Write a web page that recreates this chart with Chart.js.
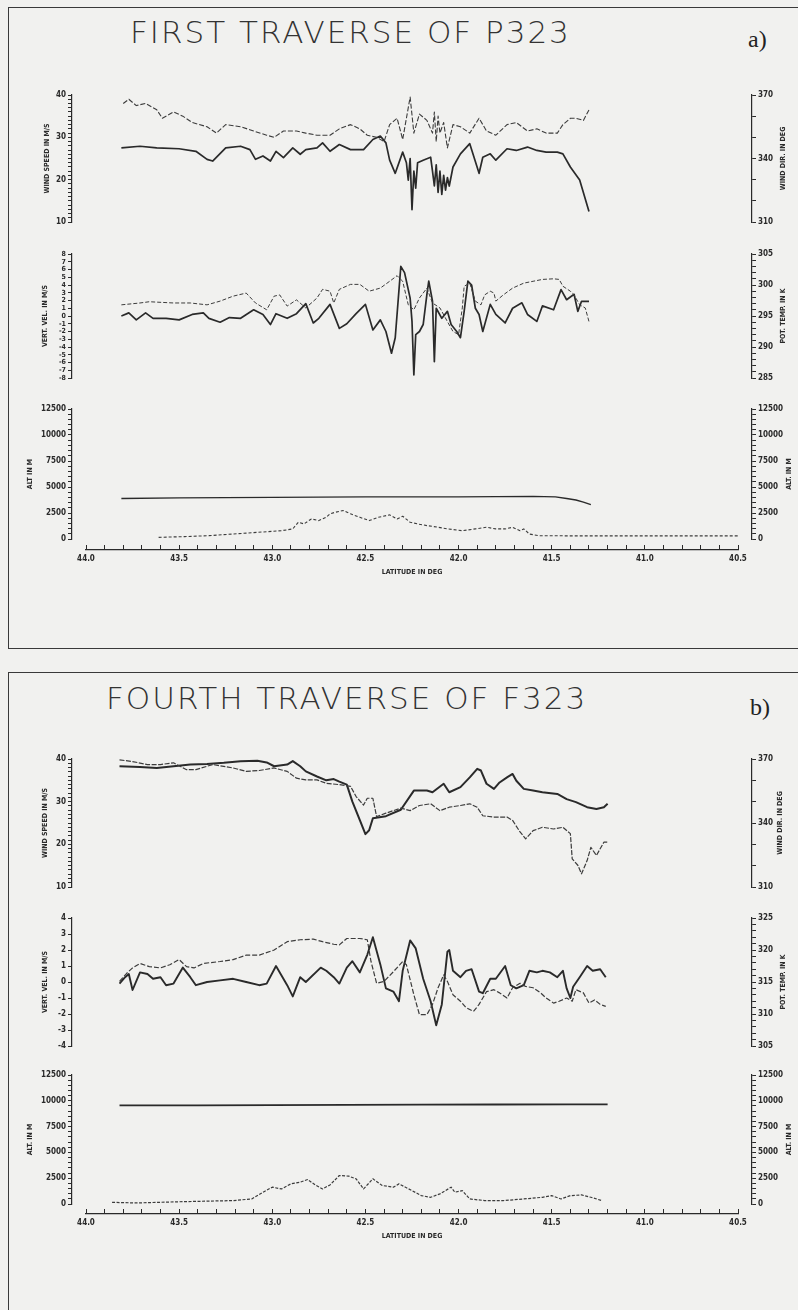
<!DOCTYPE html>
<html lang="en">
<head>
<meta charset="UTF-8" />
<title>First traverse of P323 / Fourth traverse of F323</title>
<script src="https://cdn.jsdelivr.net/npm/chart.js@4.4.0/dist/chart.umd.min.js"></script>
<style>
  body { margin: 0; background: #f1f1ef; }
  #page { position: relative; width: 798px; height: 1310px; overflow: hidden; background: #f1f1ef; }
  canvas { position: absolute; left: 20px; }
  .box { position: absolute; left: 8px; width: 820px; border: 1px solid #3a3a3a; }
  .title { position: absolute; font-family: 'DejaVu Sans', sans-serif; font-weight: 200; font-size: 31px; color: #333; letter-spacing: 2px; white-space: nowrap; }
  .tag { position: absolute; font-family: 'Liberation Serif', serif; font-size: 24px; color: #222; }
</style>
</head>
<body>
<div id="page">
  <div class="box" style="top:7px;height:640px"></div>
  <div class="box" style="top:672px;height:660px"></div>
  <div class="title" style="left:130px;top:14px">FIRST TRAVERSE OF P323</div>
  <div class="tag" style="left:748px;top:26px">a)</div>
  <div class="title" style="left:106px;top:680px">FOURTH TRAVERSE OF F323</div>
  <div class="tag" style="left:750px;top:694px">b)</div>

  <canvas id="aWind" width="776" height="147" style="top:85px"></canvas>
  <canvas id="aVert" width="776" height="144" style="top:244px"></canvas>
  <canvas id="aAlt" width="776" height="150" style="top:399px"></canvas>
  <canvas id="aLat" width="776" height="37" style="top:542px"></canvas>

  <canvas id="bWind" width="776" height="148" style="top:749px"></canvas>
  <canvas id="bVert" width="776" height="148" style="top:908px"></canvas>
  <canvas id="bAlt" width="776" height="149" style="top:1065px"></canvas>
  <canvas id="bLat" width="776" height="37" style="top:1206px"></canvas>
</div>

<script>
  // ---- panel a : first traverse of P323 ----
  const aWsLat = [43.81, 43.71, 43.62, 43.50, 43.41, 43.35, 43.32, 43.25, 43.17, 43.12,
    43.09, 43.05, 43.01, 42.98, 42.94, 42.89, 42.85, 42.82, 42.76, 42.73,
    42.69, 42.64, 42.58, 42.51, 42.46, 42.42, 42.39, 42.37, 42.34, 42.30,
    42.28, 42.27, 42.26, 42.25, 42.24, 42.23, 42.22, 42.19, 42.15, 42.14,
    42.13, 42.12, 42.11, 42.10, 42.09, 42.08, 42.07, 42.06, 42.05, 42.03,
    41.99, 41.94, 41.89, 41.87, 41.83, 41.80, 41.74, 41.69, 41.63, 41.58,
    41.53, 41.47, 41.44, 41.40, 41.35, 41.30];
  const aWs = [27.5, 27.9, 27.5, 27.3, 26.7, 24.8, 24.4, 27.5, 27.9, 27.1,
    24.8, 25.6, 24.4, 26.7, 25.2, 27.5, 26.0, 27.1, 27.5, 28.7,
    26.7, 28.3, 27.1, 27.1, 29.5, 30.3, 28.7, 24.6, 21.5, 26.5,
    24.0, 19.9, 25.0, 12.9, 22.0, 18.0, 24.0, 24.6, 25.3, 22.0,
    18.5, 23.5, 17.0, 22.0, 16.5, 21.0, 17.5, 20.5, 18.5, 23.0,
    26.1, 28.5, 21.5, 25.3, 26.1, 24.6, 27.3, 26.9, 27.7, 26.9,
    26.5, 26.5, 26.1, 23.0, 19.9, 12.5];

  const aDirLat = [43.80, 43.77, 43.73, 43.68, 43.62, 43.59, 43.53, 43.48, 43.43, 43.35,
    43.30, 43.25, 43.17, 43.10, 43.03, 42.99, 42.94, 42.87, 42.82, 42.76,
    42.69, 42.64, 42.58, 42.53, 42.49, 42.44, 42.40, 42.37, 42.33, 42.30,
    42.26, 42.24, 42.21, 42.17, 42.14, 42.13, 42.12, 42.11, 42.10, 42.08,
    42.06, 42.03, 41.99, 41.94, 41.89, 41.85, 41.80, 41.74, 41.69, 41.63,
    41.58, 41.53, 41.47, 41.44, 41.40, 41.37, 41.33, 41.30];
  const aDir = [366, 368, 365, 366, 363, 359, 362, 360, 357, 355,
    352, 356, 355, 353, 351, 350, 353, 353, 352, 351,
    351, 354, 356, 354, 351, 350, 348, 356, 359, 349,
    369, 352, 361, 358, 352, 362, 348, 360, 352, 357,
    345, 356, 355, 352, 359, 353, 351, 356, 357, 353,
    354, 352, 352, 356, 359, 359, 358, 363];

  const aVvLat = [43.81, 43.77, 43.73, 43.68, 43.64, 43.57, 43.50, 43.43, 43.37, 43.34,
    43.28, 43.23, 43.17, 43.10, 43.05, 43.01, 42.98, 42.92, 42.87, 42.82,
    42.78, 42.75, 42.69, 42.64, 42.60, 42.55, 42.50, 42.46, 42.42, 42.39,
    42.36, 42.34, 42.31, 42.29, 42.26, 42.25, 42.24, 42.23, 42.21, 42.19,
    42.17, 42.16, 42.14, 42.13, 42.12, 42.09, 42.06, 42.04, 42.01, 41.99,
    41.97, 41.95, 41.93, 41.91, 41.89, 41.87, 41.83, 41.80, 41.75, 41.71,
    41.66, 41.63, 41.58, 41.55, 41.49, 41.45, 41.42, 41.38, 41.36, 41.34,
    41.30];
  const aVv = [0.0, 0.4, -0.5, 0.4, -0.3, -0.3, -0.5, 0.2, 0.4, -0.3,
    -0.8, -0.2, -0.3, 0.8, 0.2, -1.1, 0.3, -0.3, 0.3, 1.6,
    -0.9, -0.3, 1.5, -1.6, -1.0, 0.3, 1.5, -1.8, -0.5, -2.0,
    -4.8, -2.8, 6.4, 5.6, 2.3, -0.7, -7.6, -2.4, -2.0, -1.1,
    2.8, 4.5, 1.9, -5.9, 1.0, -0.3, 0.6, -1.1, -2.0, -2.8,
    0.6, 4.5, 4.0, 1.0, 0.2, -2.0, 1.5, 0.2, -0.9, 1.0,
    1.7, 0.2, -0.7, 1.3, 0.8, 3.4, 2.1, 2.8, 0.6, 1.9,
    1.9];

  const aPtLat = [43.81, 43.71, 43.66, 43.53, 43.44, 43.35, 43.28, 43.21, 43.14, 43.09,
    43.03, 42.99, 42.96, 42.92, 42.87, 42.82, 42.76, 42.73, 42.69, 42.67,
    42.64, 42.58, 42.53, 42.48, 42.42, 42.37, 42.33, 42.30, 42.27, 42.24,
    42.21, 42.17, 42.14, 42.10, 42.06, 42.03, 42.00, 41.98, 41.97, 41.94,
    41.91, 41.88, 41.86, 41.83, 41.81, 41.80, 41.76, 41.71, 41.65, 41.60,
    41.55, 41.49, 41.46, 41.44, 41.40, 41.38, 41.35, 41.32, 41.30];
  const aPt = [296.8, 297.1, 297.3, 297.1, 297.1, 296.8, 297.4, 298.2, 298.7, 297.1,
    296.0, 298.2, 298.4, 296.6, 297.6, 296.3, 297.9, 299.3, 299.0, 297.1,
    299.3, 300.1, 300.1, 299.0, 299.5, 300.6, 301.5, 300.6, 296.8, 296.0,
    297.9, 299.5, 297.1, 296.3, 294.1, 292.5, 292.0, 296.3, 299.8, 300.3,
    297.4, 296.8, 298.4, 299.0, 298.7, 297.4, 298.4, 299.5, 300.3, 300.6,
    300.9, 301.0, 300.9, 299.8, 299.0, 298.4, 296.8, 296.3, 294.1];

  const aAltLat = [43.81, 43.50, 43.00, 42.50, 42.00, 41.60, 41.48, 41.42, 41.37, 41.33, 41.29];
  const aAlt = [3900, 3950, 4000, 4050, 4050, 4100, 4050, 3900, 3750, 3550, 3300];

  const aTerLat = [43.61, 43.47, 43.34, 43.21, 43.08, 42.95, 42.89, 42.86, 42.83, 42.79,
    42.75, 42.71, 42.69, 42.66, 42.62, 42.58, 42.53, 42.48, 42.43, 42.37,
    42.33, 42.30, 42.26, 42.22, 42.17, 42.11, 42.06, 41.98, 41.91, 41.85,
    41.80, 41.75, 41.71, 41.67, 41.65, 41.62, 41.57, 41.39, 41.12, 40.86,
    40.50];
  const aTer = [160, 230, 320, 480, 640, 800, 970, 1610, 1450, 1930,
    1770, 2090, 2420, 2580, 2740, 2420, 2090, 1770, 2090, 2320,
    1930, 2190, 1610, 1450, 1290, 1130, 970, 800, 970, 1130,
    970, 970, 1130, 800, 970, 480, 320, 300, 300, 300,
    300];

  // ---- panel b : fourth traverse of F323 ----
  const bWsLat = [43.82, 43.71, 43.62, 43.53, 43.44, 43.35, 43.26, 43.17, 43.08, 43.03,
    42.99, 42.92, 42.89, 42.85, 42.82, 42.76, 42.71, 42.67, 42.64, 42.60,
    42.57, 42.53, 42.50, 42.48, 42.46, 42.39, 42.31, 42.24, 42.17, 42.14,
    42.08, 42.05, 41.99, 41.94, 41.90, 41.88, 41.85, 41.81, 41.78, 41.74,
    41.71, 41.69, 41.65, 41.60, 41.55, 41.47, 41.42, 41.37, 41.31, 41.26,
    41.22, 41.20];
  const bWs = [38.3, 38.1, 37.9, 38.3, 38.7, 38.8, 39.1, 39.5, 39.6, 39.2,
    38.3, 38.7, 39.5, 38.3, 37.1, 35.9, 35.0, 35.3, 34.7, 34.0,
    30.0, 25.7, 22.4, 23.3, 26.1, 26.6, 28.1, 32.6, 32.6, 32.2,
    34.2, 32.2, 33.4, 35.7, 37.7, 37.3, 34.2, 33.0, 34.5, 35.7,
    36.5, 34.9, 33.0, 32.6, 32.2, 31.8, 30.6, 29.9, 28.7, 28.3,
    28.7, 29.5];

  const bDirLat = [43.82, 43.75, 43.67, 43.60, 43.53, 43.46, 43.41, 43.32, 43.21, 43.14,
    43.07, 42.99, 42.92, 42.87, 42.82, 42.76, 42.71, 42.64, 42.58, 42.55,
    42.51, 42.49, 42.46, 42.44, 42.39, 42.31, 42.26, 42.21, 42.15, 42.10,
    42.05, 41.99, 41.94, 41.90, 41.87, 41.81, 41.74, 41.71, 41.67, 41.64,
    41.60, 41.55, 41.49, 41.44, 41.40, 41.39, 41.36, 41.34, 41.31, 41.29,
    41.26, 41.22, 41.20];
  const bDir = [369.6, 368.8, 367.4, 367.4, 368.2, 365.0, 365.0, 367.4, 365.8, 364.2,
    364.6, 365.8, 364.2, 361.0, 360.2, 360.2, 358.6, 358.0, 357.2, 352.4,
    348.4, 351.6, 351.6, 343.0, 344.6, 347.0, 345.8, 348.2, 349.0, 345.8,
    347.4, 348.2, 349.0, 347.4, 343.4, 342.8, 342.8, 341.2, 335.8, 332.6,
    336.4, 338.0, 337.2, 338.0, 335.0, 323.2, 320.2, 316.2, 322.4, 328.6,
    324.8, 331.0, 331.0];

  const bVvLat = [43.82, 43.79, 43.77, 43.75, 43.71, 43.67, 43.64, 43.60, 43.57, 43.53,
    43.48, 43.44, 43.41, 43.35, 43.28, 43.21, 43.14, 43.07, 43.03, 42.98,
    42.92, 42.89, 42.85, 42.82, 42.74, 42.71, 42.67, 42.64, 42.60, 42.57,
    42.53, 42.49, 42.46, 42.42, 42.39, 42.35, 42.32, 42.30, 42.26, 42.23,
    42.19, 42.15, 42.12, 42.09, 42.06, 42.05, 42.03, 41.99, 41.96, 41.93,
    41.89, 41.87, 41.83, 41.80, 41.75, 41.72, 41.69, 41.65, 41.62, 41.58,
    41.55, 41.51, 41.47, 41.44, 41.42, 41.40, 41.385, 41.35, 41.31, 41.28,
    41.24, 41.21];
  const bVv = [-0.1, 0.3, 0.5, -0.5, 0.6, 0.5, 0.2, 0.3, -0.2, -0.1,
    0.9, 0.3, -0.2, 0.0, 0.1, 0.2, 0.0, -0.2, -0.1, 1.0,
    -0.2, -0.9, 0.3, 0.0, 0.9, 0.7, 0.3, -0.1, 0.9, 1.3,
    0.6, 1.7, 2.8, 1.1, -0.4, -0.6, -1.2, 0.7, 2.6, 2.1,
    0.2, -1.2, -2.7, -1.4, 1.9, 2.0, 0.7, 0.3, 0.7, 0.8,
    -0.6, -0.7, 0.2, 0.2, 1.0, -0.2, -0.4, -0.2, 0.7, 0.6,
    0.7, 0.6, 0.3, 0.7, -0.4, -1.0, -0.3, 0.3, 1.0, 0.7,
    0.8, 0.3];

  const bPtLat = [43.82, 43.78, 43.75, 43.71, 43.66, 43.60, 43.55, 43.50, 43.46, 43.42,
    43.37, 43.28, 43.21, 43.14, 43.07, 42.99, 42.92, 42.85, 42.78, 42.73,
    42.67, 42.64, 42.60, 42.53, 42.49, 42.47, 42.44, 42.40, 42.35, 42.30,
    42.28, 42.24, 42.21, 42.17, 42.14, 42.11, 42.08, 42.06, 42.03, 41.99,
    41.96, 41.92, 41.89, 41.85, 41.81, 41.78, 41.74, 41.71, 41.67, 41.64,
    41.60, 41.56, 41.53, 41.49, 41.46, 41.42, 41.39, 41.37, 41.33, 41.30,
    41.27, 41.24, 41.21];
  const bPt = [315.1, 316.4, 317.2, 317.9, 317.4, 317.2, 317.7, 318.5, 317.4, 317.2,
    317.9, 318.2, 318.5, 319.2, 319.2, 320.0, 321.3, 321.6, 321.7, 321.3,
    320.9, 320.8, 321.8, 321.8, 321.6, 318.2, 314.8, 315.1, 316.6, 318.2,
    317.7, 313.0, 309.9, 309.9, 311.5, 314.1, 316.1, 315.1, 313.0, 312.0,
    311.0, 310.4, 311.5, 313.5, 313.8, 313.3, 312.5, 314.1, 314.8, 314.3,
    314.1, 313.3, 312.5, 311.7, 312.0, 312.5, 312.0, 313.8, 313.3, 311.7,
    312.2, 311.5, 311.2];

  const bAltLat = [43.82, 43.40, 43.00, 42.60, 42.20, 41.80, 41.40, 41.20];
  const bAlt = [9550, 9560, 9580, 9600, 9620, 9640, 9650, 9650];

  const bTerLat = [43.86, 43.73, 43.47, 43.21, 43.11, 43.05, 43.00, 42.95, 42.90, 42.85,
    42.81, 42.77, 42.73, 42.69, 42.64, 42.59, 42.55, 42.51, 42.46, 42.41,
    42.35, 42.32, 42.25, 42.20, 42.15, 42.10, 42.04, 42.02, 41.98, 41.94,
    41.86, 41.76, 41.65, 41.55, 41.50, 41.45, 41.40, 41.34, 41.29, 41.23];
  const bTer = [160, 100, 230, 330, 490, 1140, 1630, 1460, 1950, 2110,
    2370, 1850, 1460, 1850, 2760, 2700, 2440, 1460, 2440, 1790,
    1630, 1950, 1300, 810, 650, 980, 1630, 1140, 1300, 490,
    330, 330, 490, 650, 810, 490, 810, 880, 650, 330];

  // ---- drawing ----
  const INK = '#2a2a2a';
  const FAM = "'DejaVu Sans Condensed', 'DejaVu Sans', sans-serif";
  const LAT_MIN = 40.5, LAT_MAX = 44.0, LAT_PAD = 0.075;
  const LEFT_W = 52, RIGHT_W = 44, PAD = 10;

  function pts(lat, val) {
    return lat.map((x, i) => ({ x: x, y: val[i] }));
  }

  function onEvery(min, every, fmt) {
    return v => {
      const k = (v - min) / every;
      if (Math.abs(k - Math.round(k)) > 1e-6) return '';
      return fmt ? fmt(v) : String(Math.round(v * 10) / 10);
    };
  }

  function yAxis(pos, min, max, step, every, title, titlePad, size) {
    return {
      position: pos, min: min, max: max,
      border: { display: true, color: INK, width: 1.2 },
      grid: { drawOnChartArea: false, drawTicks: true, tickLength: 4, color: INK, lineWidth: 1 },
      ticks: {
        stepSize: step, autoSkip: false, padding: 2, color: INK,
        font: { family: FAM, size: size || 8, weight: 'bold' },
        callback: onEvery(min, every)
      },
      title: {
        display: pos === 'left', text: title, color: INK,
        font: { family: FAM, size: 7, weight: 'bold' },
        padding: { top: titlePad, bottom: 0 }
      },
      afterFit: s => { s.width = pos === 'left' ? LEFT_W : RIGHT_W; }
    };
  }

  // right-hand axis titles read upwards, like the left ones
  const sideTitle = {
    id: 'sideTitle',
    afterDraw(chart, args, opts) {
      if (!opts || !opts.text) return;
      const a = chart.chartArea, ctx = chart.ctx;
      ctx.save();
      ctx.translate(opts.x, (a.top + a.bottom) / 2);
      ctx.rotate(-Math.PI / 2);
      ctx.font = 'bold 7px ' + FAM;
      ctx.fillStyle = INK;
      ctx.textAlign = 'center';
      ctx.textBaseline = 'middle';
      ctx.fillText(opts.text, 0, 0);
      ctx.restore();
    }
  };

  function solid(data, axis, w) {
    return { data: data, yAxisID: axis, borderColor: INK, borderWidth: w, pointRadius: 0 };
  }
  function dashed(data, axis, w, dash) {
    return { data: data, yAxisID: axis, borderColor: '#3c3c3c', borderWidth: w, borderDash: dash, pointRadius: 0 };
  }

  function plot(id, datasets, yL, yR, side) {
    return new Chart(document.getElementById(id), {
      type: 'line',
      data: { datasets: datasets },
      options: {
        responsive: false, animation: false, events: [],
        layout: { padding: { top: PAD, bottom: PAD, left: 0, right: 0 } },
        elements: { point: { radius: 0 }, line: { tension: 0, borderJoinStyle: 'round' } },
        plugins: { legend: { display: false }, tooltip: { enabled: false }, sideTitle: side },
        scales: {
          x: { type: 'linear', reverse: true, min: LAT_MIN - LAT_PAD, max: LAT_MAX + LAT_PAD, display: false },
          yL: yL,
          yR: yR
        }
      },
      plugins: [sideTitle]
    });
  }

  function latAxis(id) {
    return new Chart(document.getElementById(id), {
      type: 'line',
      data: { datasets: [] },
      options: {
        responsive: false, animation: false, events: [],
        layout: { padding: { top: 3, bottom: 0, left: 66, right: 58 } },
        plugins: { legend: { display: false }, tooltip: { enabled: false } },
        scales: {
          x: {
            type: 'linear', reverse: true, min: LAT_MIN, max: LAT_MAX,
            border: { display: true, color: INK, width: 1.2 },
            grid: { drawOnChartArea: true, drawTicks: false, color: INK, lineWidth: 1 },
            ticks: {
              stepSize: 0.1, autoSkip: false, padding: 4, maxRotation: 0, color: INK,
              font: { family: FAM, size: 8, weight: 'bold' },
              callback: onEvery(LAT_MIN, 0.5, v => v.toFixed(1))
            },
            title: {
              display: true, text: 'LATITUDE IN DEG', color: INK,
              font: { family: FAM, size: 7, weight: 'bold' },
              padding: { top: 2, bottom: 3 }
            },
            afterFit: s => { s.height = 29; }
          },
          y: { display: false, min: 0, max: 1 }
        }
      }
    });
  }

  // panel a
  plot('aWind',
    [dashed(pts(aDirLat, aDir), 'yR', 1.1, [5, 2]), solid(pts(aWsLat, aWs), 'yL', 1.7)],
    yAxis('left', 10, 40, 1, 10, 'WIND SPEED IN M/S', 23),
    yAxis('right', 310, 370, 10, 30, ''),
    { text: 'WIND DIR. IN DEG', x: 763 });

  plot('aVert',
    [dashed(pts(aPtLat, aPt), 'yR', 1.0, [4, 2]), solid(pts(aVvLat, aVv), 'yL', 1.7)],
    yAxis('left', -8, 8, 1, 1, 'VERT. VEL. IN M/S', 21, 7),
    yAxis('right', 285, 305, 1, 5, ''),
    { text: 'POT. TEMP. IN K', x: 763 });

  plot('aAlt',
    [dashed(pts(aTerLat, aTer), 'yL', 1.1, [3, 2]), solid(pts(aAltLat, aAlt), 'yL', 1.4)],
    yAxis('left', 0, 12500, 500, 2500, 'ALT IN M', 6),
    yAxis('right', 0, 12500, 500, 2500, ''),
    { text: 'ALT. IN M', x: 769 });

  latAxis('aLat');

  // panel b
  plot('bWind',
    [dashed(pts(bDirLat, bDir), 'yR', 1.2, [5, 1.5]), solid(pts(bWsLat, bWs), 'yL', 2.0)],
    yAxis('left', 10, 40, 1, 10, 'WIND SPEED IN M/S', 21),
    yAxis('right', 310, 370, 10, 30, ''),
    { text: 'WIND DIR. IN DEG', x: 760 });

  plot('bVert',
    [dashed(pts(bPtLat, bPt), 'yR', 1.2, [5, 2]), solid(pts(bVvLat, bVv), 'yL', 1.9)],
    yAxis('left', -4, 4, 1, 1, 'VERT. VEL. IN M/S', 21),
    yAxis('right', 305, 325, 1, 5, ''),
    { text: 'POT. TEMP. IN K', x: 763 });

  plot('bAlt',
    [dashed(pts(bTerLat, bTer), 'yL', 1.2, [3, 1.5]), solid(pts(bAltLat, bAlt), 'yL', 1.8)],
    yAxis('left', 0, 12500, 500, 2500, 'ALT. IN M', 6),
    yAxis('right', 0, 12500, 500, 2500, ''),
    { text: 'ALT. IN M', x: 769 });

  latAxis('bLat');
</script>
</body>
</html>
